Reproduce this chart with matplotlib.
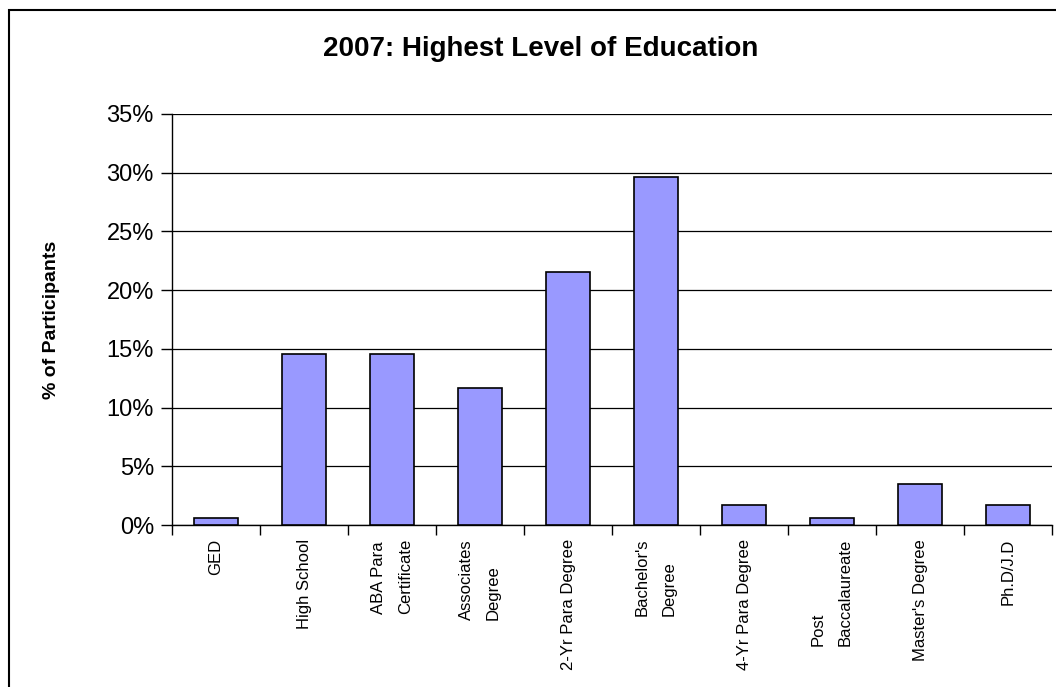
import matplotlib
matplotlib.use("Agg")
import matplotlib.pyplot as plt
import matplotlib.ticker as mticker
from matplotlib.patches import Rectangle
import numpy as np

# ── Data ──────────────────────────────────────────────────────────────────────
categories = ["GED", "High School", "ABA Para\nCertificate", "Associates\nDegree",
              "2-Yr Para Degree", "Bachelor's\nDegree", "4-Yr Para Degree",
              "Post\nBaccalaureate", "Master's Degree", "Ph.D/J.D"]
pct = [0.58, 14.53, 14.53, 11.63, 21.51, 29.65, 1.74, 0.58, 3.49, 1.74]
yticks = [0, 5, 10, 15, 20, 25, 30, 35]

# ── Styling ───────────────────────────────────────────────────────────────────
plt.rcParams.update({"font.family": ["Liberation Sans", "DejaVu Sans"]})
BAR = "#9999FF"

fig = plt.figure(figsize=(10.56, 6.87), dpi=100)
ax = fig.add_axes([172 / 1056, 1 - 525 / 687, 880 / 1056, 411 / 687])

x = np.arange(len(categories))
ax.bar(x, pct, width=0.51, color=BAR, edgecolor="black", lw=1.2, zorder=3)

ax.set_xlim(-0.5, len(categories) - 0.5)
ax.set_ylim(0, 35)
ax.set_yticks(yticks)
ax.yaxis.set_major_formatter(mticker.FuncFormatter(lambda v, _: f"{v:.0f}%"))
ax.tick_params(axis="y", labelsize=17, length=8, width=1, direction="out", pad=5)
ax.grid(axis="y", color="black", lw=0.9, zorder=0)

ax.set_xticks(x)
ax.set_xticklabels(categories, rotation=90, ha="center", va="top",
                   multialignment="left", fontsize=12, linespacing=2.0)
ax.tick_params(axis="x", which="major", length=0, pad=10)
ax.set_xticks(np.arange(len(categories) + 1) - 0.5, minor=True)
ax.tick_params(axis="x", which="minor", length=7, width=1, direction="out")

for s in ["top", "right"]:
    ax.spines[s].set_visible(False)
ax.spines["left"].set_linewidth(1)
ax.spines["bottom"].set_linewidth(1)

ax.set_ylabel("% of Participants", fontsize=14, fontweight="bold")
ax.yaxis.set_label_coords(-(172 - 60) / 880, 0.5)

fig.text(541 / 1056, 1 - 49 / 687, "2007: Highest Level of Education",
         ha="center", va="center", fontsize=20, fontweight="bold")

# outer chart border
fig.patches.append(Rectangle((9 / 1056, -0.1), 1.2, 1 - 10 / 687 + 0.1,
                             transform=fig.transFigure, fill=False,
                             edgecolor="black", lw=1.5))

fig.savefig("out.png", dpi=100)
